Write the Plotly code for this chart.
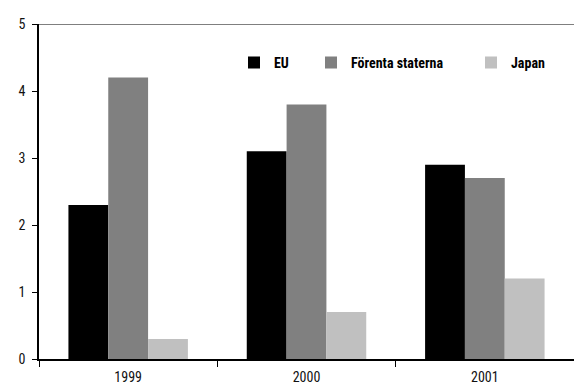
import plotly.graph_objects as go

years = ["1999", "2000", "2001"]
eu = [2.3, 3.1, 2.9]
usa = [4.2, 3.8, 2.7]
japan = [0.3, 0.7, 1.2]
y_ticks = [0, 1, 2, 3, 4, 5]

FONT = "'Liberation Sans Narrow', 'Roboto Condensed', 'Arial Narrow', 'Liberation Sans', Arial, sans-serif"

fig = go.Figure()
fig.add_bar(x=years, y=eu, name="EU", marker_color="#000000", legend="legend")
fig.add_bar(x=years, y=usa, name="Förenta staterna", marker_color="#808080", legend="legend2")
fig.add_bar(x=years, y=japan, name="Japan", marker_color="#c0c0c0", legend="legend3")
fig.update_traces(marker_line_width=0)

leg = dict(orientation="h", yanchor="middle", y=0.884, xanchor="left",
           font=dict(family=FONT, size=14, color="#000000", weight="bold"),
           bgcolor="rgba(0,0,0,0)", borderwidth=0, visible=True, itemwidth=30)

fig.update_layout(
    width=574, height=390,
    showlegend=True,
    margin=dict(l=39, r=0, t=24, b=31, autoexpand=False),
    paper_bgcolor="white", plot_bgcolor="white",
    barmode="group", bargap=0.33, bargroupgap=0,
    font=dict(family=FONT, size=14, color="#111111"),
    legend=dict(leg, x=(234 - 39) / 535),
    legend2=dict(leg, x=(311 - 39) / 535),
    legend3=dict(leg, x=(471 - 39) / 535),
    xaxis=dict(type="category", range=[-0.5, 2.5], showline=True, linecolor="#000000",
               linewidth=1.5, ticks="outside", tickson="boundaries", ticklen=6,
               tickcolor="#000000", showgrid=False, zeroline=False, fixedrange=True,
               ticklabelstandoff=4),
    xaxis2=dict(overlaying="x", anchor="y", side="bottom", range=[-0.5, 2.5],
                tickvals=[-0.5, 0.5, 1.5, 2.5], ticks="inside", ticklen=6,
                tickcolor="#000000", showticklabels=False, showline=False,
                showgrid=False, zeroline=False, fixedrange=True),
    yaxis=dict(range=[0, 5], tickvals=y_ticks, showline=True, linecolor="#000000",
               linewidth=1.5, ticks="outside", ticklen=5, tickcolor="#000000",
               showgrid=False, zeroline=False, ticklabelstandoff=4, fixedrange=True),
    yaxis2=dict(overlaying="y", anchor="x", side="left", range=[0, 5],
                tickvals=y_ticks, ticks="inside", ticklen=4, tickcolor="#000000",
                showticklabels=False, showline=False, showgrid=False,
                zeroline=False, fixedrange=True),
    shapes=[dict(type="line", xref="paper", x0=0, x1=1, yref="y", y0=5, y1=5,
                 line=dict(color="#555555", width=1.5))],
)

fig.write_html("out.html", config={"displayModeBar": False},
               post_script="document.body.style.margin='0';")
